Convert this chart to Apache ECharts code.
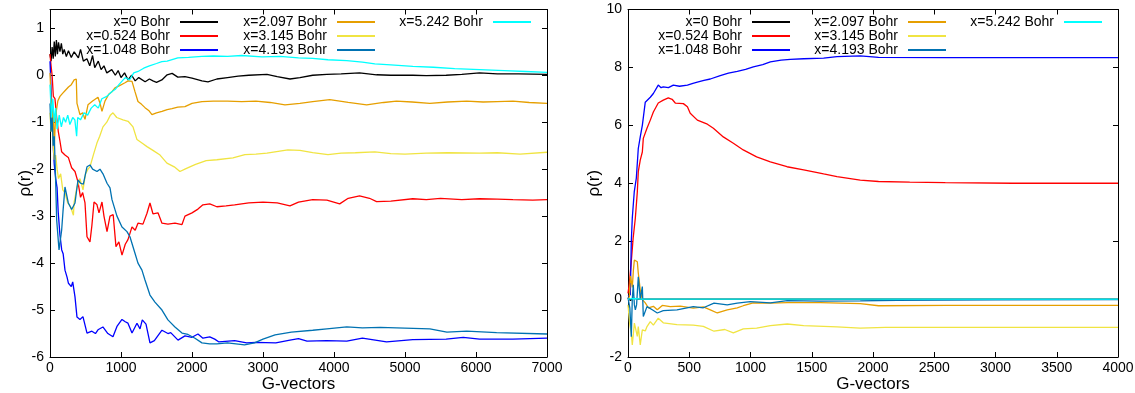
<!DOCTYPE html>
<html>
<head>
<meta charset="utf-8">
<script src="https://cdn.jsdelivr.net/npm/echarts@6/dist/echarts.min.js"></script>
<style>
html,body{margin:0;padding:0;background:#fff;}
#chart{width:1135px;height:393px;}
</style>
</head>
<body>
<div id="chart"></div>
<script>
// ---------- names / colours ----------
const seriesNames = ['x=0 Bohr','x=0.524 Bohr','x=1.048 Bohr','x=2.097 Bohr','x=3.145 Bohr','x=4.193 Bohr','x=5.242 Bohr'];
const seriesColors = ['#000000','#ff0000','#0000ff','#e69f00','#f0e442','#0072b2','#00ffff'];

// ---------- axis ticks ----------
const leftXTicks = [0,1000,2000,3000,4000,5000,6000,7000];
const leftYTicks = [-6,-5,-4,-3,-2,-1,0,1];
const rightXTicks = [0,500,1000,1500,2000,2500,3000,3500,4000];
const rightYTicks = [-2,0,2,4,6,8,10];
const xTitle = 'G-vectors';
const yTitle = 'ρ(r)';

// ---------- left panel data [G-vectors, rho] ----------
const left_x0 = [[0,0.45],[15,0.3],[30,0.6],[45,0.35],[60,0.72],[75,0.4],[90,0.75],[105,0.45],[120,0.7],[140,0.5],[160,0.68],[180,0.45],[200,0.55],[230,0.4],[260,0.52],[300,0.38],[340,0.5],[400,0.37],[430,0.55],[470,0.3],[520,0.35],[560,0.2],[600,0.42],[630,0.16],[680,0.3],[720,0.12],[760,0.2],[800,0.05],[870,0.12],[920,0.0],[960,0.1],[1000,-0.05],[1050,0.05],[1100,-0.1],[1150,0.0],[1200,-0.12],[1250,-0.05],[1340,-0.14],[1400,-0.08],[1450,-0.12],[1500,-0.15],[1575,-0.1],[1650,0.01],[1720,0.04],[1800,-0.04],[1900,-0.03],[2000,-0.06],[2140,-0.12],[2225,-0.14],[2350,-0.08],[2500,-0.05],[2650,-0.02],[2800,0.0],[3055,0.02],[3200,-0.03],[3380,-0.08],[3520,-0.05],[3700,0.0],[3900,0.02],[4100,0.03],[4360,0.05],[4600,0.01],[4800,0.0],[5110,0.0],[5300,-0.01],[5580,0.0],[5800,0.02],[6050,0.05],[6300,0.03],[6600,0.03],[7000,0.02]];
const left_x0524 = [[0,0.45],[15,0.2],[30,0.0],[47,-0.45],[70,-0.5],[94,-0.9],[117,-1.2],[140,-1.4],[164,-1.63],[211,-1.7],[258,-1.75],[305,-1.97],[352,-2.05],[394,-2.27],[430,-2.6],[460,-2.5],[493,-2.72],[521,-3.44],[563,-3.55],[590,-3.2],[620,-2.7],[660,-2.75],[690,-2.93],[732,-2.7],[760,-3.0],[803,-3.33],[845,-3.0],[890,-2.97],[929,-3.65],[970,-3.55],[1014,-3.83],[1060,-3.6],[1098,-3.5],[1155,-3.23],[1200,-3.3],[1239,-3.15],[1309,-3.17],[1366,-2.94],[1408,-2.72],[1450,-2.95],[1521,-2.93],[1577,-3.15],[1661,-3.17],[1760,-3.15],[1859,-3.18],[1901,-3.0],[2000,-2.93],[2084,-2.85],[2154,-2.76],[2250,-2.74],[2350,-2.8],[2480,-2.78],[2600,-2.76],[2800,-2.72],[3000,-2.7],[3200,-2.72],[3380,-2.78],[3500,-2.7],[3700,-2.65],[3900,-2.66],[4080,-2.74],[4200,-2.62],[4360,-2.57],[4500,-2.62],[4600,-2.69],[4800,-2.68],[5110,-2.63],[5300,-2.65],[5500,-2.62],[5800,-2.65],[6050,-2.63],[6300,-2.64],[6520,-2.65],[6800,-2.66],[7000,-2.65]];
const left_x1048 = [[0,0.3],[15,-0.3],[30,-0.8],[45,-1.5],[60,-1.9],[80,-2.2],[100,-2.4],[115,-2.9],[140,-3.4],[165,-3.72],[185,-3.8],[211,-4.15],[240,-4.3],[260,-4.43],[300,-4.5],[320,-4.4],[352,-4.72],[380,-5.15],[422,-5.2],[464,-5.14],[521,-5.49],[590,-5.45],[640,-5.5],[676,-5.42],[745,-5.36],[815,-5.5],[887,-5.57],[943,-5.35],[1014,-5.2],[1060,-5.25],[1098,-5.28],[1155,-5.49],[1225,-5.28],[1268,-5.4],[1300,-5.21],[1352,-5.3],[1408,-5.7],[1470,-5.65],[1577,-5.43],[1661,-5.5],[1700,-5.48],[1803,-5.64],[1901,-5.55],[2000,-5.58],[2084,-5.51],[2154,-5.6],[2250,-5.57],[2320,-5.62],[2380,-5.68],[2600,-5.65],[2770,-5.7],[2900,-5.69],[3180,-5.7],[3380,-5.64],[3500,-5.61],[3620,-5.66],[3900,-5.65],[4180,-5.66],[4400,-5.6],[4740,-5.68],[5110,-5.63],[5580,-5.62],[5820,-5.58],[6050,-5.62],[6520,-5.62],[7000,-5.6]];
const left_x2097 = [[0,0.05],[15,-0.5],[30,-1.1],[45,-0.7],[60,-1.55],[75,-1.0],[90,-0.75],[110,-0.55],[140,-0.45],[180,-0.38],[211,-0.33],[260,-0.25],[300,-0.2],[340,-0.1],[370,-0.08],[380,-0.6],[422,-0.84],[460,-0.8],[493,-0.94],[535,-0.63],[600,-0.55],[676,-0.47],[705,-0.6],[732,-0.77],[774,-0.55],[830,-0.4],[873,-0.35],[915,-0.27],[980,-0.22],[1056,-0.16],[1100,-0.12],[1155,-0.13],[1197,-0.35],[1239,-0.56],[1290,-0.62],[1338,-0.69],[1390,-0.75],[1436,-0.84],[1500,-0.8],[1577,-0.77],[1650,-0.73],[1718,-0.71],[1800,-0.68],[1901,-0.67],[2000,-0.6],[2140,-0.56],[2300,-0.55],[2500,-0.55],[2700,-0.56],[2900,-0.55],[3100,-0.58],[3310,-0.63],[3520,-0.6],[3700,-0.56],[3940,-0.52],[4200,-0.58],[4460,-0.63],[4700,-0.58],[4880,-0.55],[5100,-0.57],[5350,-0.6],[5600,-0.57],[5870,-0.55],[6100,-0.57],[6300,-0.56],[6520,-0.55],[6750,-0.58],[7000,-0.6]];
const left_x3145 = [[0,-0.8],[15,-1.2],[30,-1.0],[45,-1.5],[60,-1.8],[80,-1.7],[100,-2.0],[120,-2.2],[150,-2.1],[180,-2.44],[210,-2.5],[250,-2.72],[290,-2.8],[330,-2.98],[340,-2.7],[380,-2.38],[422,-2.2],[465,-2.44],[500,-2.1],[535,-2.0],[563,-1.95],[610,-1.7],[662,-1.44],[700,-1.3],[746,-1.1],[800,-1.0],[850,-0.85],[887,-0.8],[940,-0.9],[1028,-0.95],[1100,-0.98],[1169,-1.1],[1225,-1.37],[1300,-1.45],[1366,-1.52],[1450,-1.6],[1550,-1.7],[1647,-1.87],[1750,-1.95],[1830,-2.05],[1900,-2.0],[1970,-1.95],[2050,-1.9],[2200,-1.82],[2350,-1.8],[2577,-1.76],[2745,-1.69],[2900,-1.68],[3055,-1.66],[3350,-1.59],[3520,-1.6],[3700,-1.65],[3915,-1.69],[4100,-1.66],[4300,-1.65],[4575,-1.63],[4800,-1.67],[5000,-1.68],[5300,-1.66],[5600,-1.65],[6050,-1.66],[6300,-1.65],[6620,-1.68],[7000,-1.64]];
const left_x4193 = [[0,-0.6],[15,-1.2],[30,-0.9],[45,-1.5],[60,-1.3],[75,-2.0],[94,-3.08],[127,-3.72],[164,-3.3],[183,-2.9],[211,-2.38],[258,-2.72],[305,-2.86],[352,-2.72],[394,-2.23],[430,-2.3],[470,-2.32],[500,-2.1],[521,-1.95],[563,-1.91],[600,-2.0],[662,-2.05],[704,-2.0],[746,-2.1],[803,-2.3],[845,-2.4],[873,-2.65],[943,-3.0],[1014,-3.23],[1084,-3.33],[1126,-3.44],[1197,-3.79],[1239,-4.0],[1295,-4.15],[1338,-4.36],[1408,-4.68],[1478,-4.83],[1577,-5.0],[1661,-5.21],[1760,-5.36],[1859,-5.49],[1943,-5.52],[2042,-5.6],[2140,-5.7],[2250,-5.72],[2350,-5.72],[2500,-5.7],[2740,-5.74],[2880,-5.7],[3000,-5.62],[3170,-5.53],[3400,-5.47],[3700,-5.43],[3900,-5.4],[4180,-5.36],[4400,-5.38],[4650,-5.37],[4880,-5.38],[5350,-5.4],[5590,-5.47],[5870,-5.45],[6290,-5.48],[7000,-5.51]];
const left_x5242 = [[0,-0.2],[20,-0.9],[40,-0.5],[60,-1.0],[80,-0.7],[100,-1.15],[130,-0.85],[160,-1.1],[190,-0.9],[220,-1.0],[250,-0.85],[280,-1.05],[320,-0.9],[350,-0.95],[375,-1.3],[390,-0.9],[430,-0.95],[480,-0.8],[530,-0.85],[580,-0.7],[630,-0.63],[680,-0.7],[730,-0.5],[800,-0.45],[870,-0.35],[920,-0.3],[970,-0.2],[1060,-0.05],[1120,-0.1],[1180,0.05],[1240,0.08],[1320,0.15],[1400,0.2],[1500,0.25],[1575,0.29],[1650,0.3],[1800,0.37],[1950,0.38],[2140,0.4],[2300,0.41],[2500,0.4],[2700,0.42],[2985,0.39],[3240,0.4],[3500,0.37],[3700,0.36],[3915,0.33],[4180,0.31],[4400,0.28],[4575,0.24],[4800,0.22],[5110,0.19],[5400,0.17],[5700,0.14],[6050,0.12],[6400,0.1],[6700,0.08],[7000,0.06]];

// ---------- right panel data [G-vectors, rho] ----------
const right_x0 = [[0,0.05],[20,-0.05],[40,0.03],[80,0.0],[200,0.0],[4000,0.0]];
const right_x0524 = [[0,0.2],[10,0.5],[25,1.2],[42,2.1],[60,2.8],[76,3.7],[84,4.4],[100,4.8],[117,5.08],[125,5.55],[155,5.9],[182,6.18],[207,6.46],[247,6.77],[288,6.87],[329,6.95],[360,6.9],[386,6.77],[452,6.75],[485,6.64],[508,6.42],[566,6.18],[648,6.04],[697,5.9],[778,5.6],[860,5.38],[941,5.15],[1050,4.91],[1162,4.74],[1298,4.57],[1434,4.46],[1597,4.32],[1706,4.23],[1896,4.11],[2045,4.06],[2300,4.04],[2590,4.02],[3138,4.0],[3500,4.0],[4000,4.0]];
const right_x1048 = [[0,0.1],[19,0.15],[27,2.0],[35,2.8],[51,3.7],[68,4.18],[84,5.2],[100,5.6],[117,6.0],[141,6.8],[182,6.97],[207,7.1],[247,7.39],[270,7.3],[288,7.33],[330,7.3],[370,7.39],[420,7.35],[485,7.39],[530,7.45],[566,7.49],[620,7.55],[672,7.6],[753,7.72],[820,7.8],[892,7.86],[960,7.93],[1023,8.02],[1100,8.1],[1162,8.19],[1250,8.25],[1325,8.28],[1434,8.3],[1597,8.32],[1706,8.37],[1896,8.4],[2045,8.35],[2590,8.34],[3407,8.34],[4000,8.34]];
const right_x2097 = [[0,0.0],[11,0.08],[20,0.8],[27,0.77],[35,0.4],[44,1.0],[52,1.35],[65,1.3],[76,1.29],[84,0.9],[100,0.32],[117,-0.02],[141,-0.13],[166,-0.3],[207,-0.25],[239,-0.37],[280,-0.22],[345,-0.26],[427,-0.24],[533,-0.31],[615,-0.27],[672,-0.37],[729,-0.48],[810,-0.37],[892,-0.3],[941,-0.23],[1023,-0.13],[1162,-0.14],[1300,-0.12],[1570,-0.12],[1896,-0.16],[2045,-0.23],[2600,-0.22],[3000,-0.22],[4000,-0.22]];
const right_x3145 = [[0,-0.2],[15,-0.9],[27,-1.17],[35,-1.58],[52,-0.83],[76,-1.29],[84,-0.95],[100,-1.58],[117,-1.06],[141,-1.1],[155,-0.95],[182,-0.78],[207,-0.9],[247,-0.66],[288,-0.82],[400,-0.88],[533,-0.9],[615,-0.94],[702,-1.11],[790,-1.05],[860,-1.17],[941,-1.03],[1050,-1.0],[1162,-0.92],[1300,-0.86],[1434,-0.92],[1706,-0.96],[1896,-1.0],[2100,-0.98],[2600,-0.98],[4000,-0.98]];
const right_x4193 = [[0,0.05],[15,-0.3],[27,-1.3],[35,0.0],[43,0.49],[52,-0.2],[60,-0.37],[70,-0.2],[84,0.77],[100,0.0],[117,0.43],[125,-0.6],[155,-0.26],[198,-0.37],[239,-0.48],[288,-0.4],[400,-0.37],[533,-0.26],[615,-0.3],[702,-0.14],[810,-0.2],[892,-0.14],[998,-0.09],[1162,-0.13],[1300,-0.05],[1570,-0.07],[1896,-0.06],[2200,-0.04],[3000,-0.03],[4000,-0.02]];
const right_x5242 = [[0,0.0],[50,0.02],[100,0.0],[4000,0.0]];

const leftData = [left_x0,left_x0524,left_x1048,left_x2097,left_x3145,left_x4193,left_x5242];
const rightData = [right_x0,right_x0524,right_x1048,right_x2097,right_x3145,right_x4193,right_x5242];

// ---------- build option ----------
const FONT = "'Liberation Sans', Arial, Helvetica, sans-serif";
const axisLineStyle = {lineStyle:{color:'#000', width:1}};

function xAxes(ticks, gridIndex) {
  const min = ticks[0], max = ticks[ticks.length-1], interval = ticks[1]-ticks[0];
  return [
    {type:'value', gridIndex, position:'bottom', min, max, interval,
     axisLine:{show:true, onZero:false, ...axisLineStyle},
     axisTick:{show:true, inside:true, length:5, lineStyle:{color:'#000'}},
     axisLabel:{show:true, color:'#000', fontSize:14, fontFamily:FONT, margin:4, showMinLabel:true, showMaxLabel:true,
       formatter: v => String(v)},
     splitLine:{show:false},
     name:xTitle, nameLocation:'middle', nameGap:19, nameMoveOverlap:false,
     nameTextStyle:{color:'#000', fontSize:17, fontFamily:FONT}},
    {type:'value', gridIndex, position:'top', min, max, interval,
     axisLine:{show:true, onZero:false, ...axisLineStyle},
     axisTick:{show:true, inside:true, length:5, lineStyle:{color:'#000'}},
     axisLabel:{show:false}, splitLine:{show:false}}
  ];
}
function yAxes(ticks, gridIndex, maxVal, nameGap) {
  const min = ticks[0], interval = ticks[1]-ticks[0];
  return [
    {type:'value', gridIndex, position:'left', min, max:maxVal, interval,
     axisLine:{show:true, onZero:false, ...axisLineStyle},
     axisTick:{show:true, inside:true, length:5, lineStyle:{color:'#000'}},
     axisLabel:{show:true, color:'#000', fontSize:14, fontFamily:FONT, margin:6,
       formatter: v => ticks.indexOf(v) >= 0 ? String(v) : ''},
     splitLine:{show:false},
     name:yTitle, nameLocation:'middle', nameGap:nameGap, nameMoveOverlap:false,
     nameTextStyle:{color:'#000', fontSize:17, fontFamily:FONT}},
    {type:'value', gridIndex, position:'right', min, max:maxVal, interval,
     axisLine:{show:true, onZero:false, ...axisLineStyle},
     axisTick:{show:true, inside:true, length:5, lineStyle:{color:'#000'}},
     axisLabel:{show:false}, splitLine:{show:false}}
  ];
}

const series = [];
leftData.forEach((d,i) => series.push({
  type:'line', name:seriesNames[i], data:d, xAxisIndex:0, yAxisIndex:0,
  symbol:'none', showSymbol:false, color:seriesColors[i],
  lineStyle:{width:1.3, color:seriesColors[i]}, z:2+i, animation:false
}));
rightData.forEach((d,i) => series.push({
  type:'line', name:seriesNames[i], data:d, xAxisIndex:2, yAxisIndex:2,
  symbol:'none', showSymbol:false, color:seriesColors[i],
  lineStyle:{width:1.3, color:seriesColors[i]}, z:2+i, animation:false
}));

// legend layout: right offset of the sample line's end, and top, per entry
const legendRightsLeft = [917,917,917,760,760,760,604];
const legendRightsRight = [345,345,345,189,189,189,33];
const legendTops = [15,29,43,15,29,43,15];
const legends = [];
[legendRightsLeft, legendRightsRight].forEach(rights => {
  seriesNames.forEach((nm,i) => legends.push({
    data:[nm], right:rights[i], top:legendTops[i], orient:'horizontal', align:'right',
    icon:'rect', itemWidth:38, itemHeight:2, itemGap:0, padding:0, selectedMode:false,
    textStyle:{color:'#000', fontSize:14, fontFamily:FONT, lineHeight:14, padding:[0,5,0,0]}
  }));
});

const option = {
  backgroundColor:'#fff',
  animation:false,
  textStyle:{fontFamily:FONT},
  grid:[
    {left:50, right:588, top:9.5, bottom:36, containLabel:false, outerBoundsMode:'none'},
    {left:628, right:17, top:9.5, bottom:36, containLabel:false, outerBoundsMode:'none'}
  ],
  xAxis:[...xAxes(leftXTicks,0), ...xAxes(rightXTicks,1)],
  yAxis:[...yAxes(leftYTicks,0,1.4,16), ...yAxes(rightYTicks,1,10,25)],
  legend:legends,
  series
};

const chart = echarts.init(document.getElementById('chart'), null, {renderer:'canvas'});
chart.setOption(option);
</script>
</body>
</html>
